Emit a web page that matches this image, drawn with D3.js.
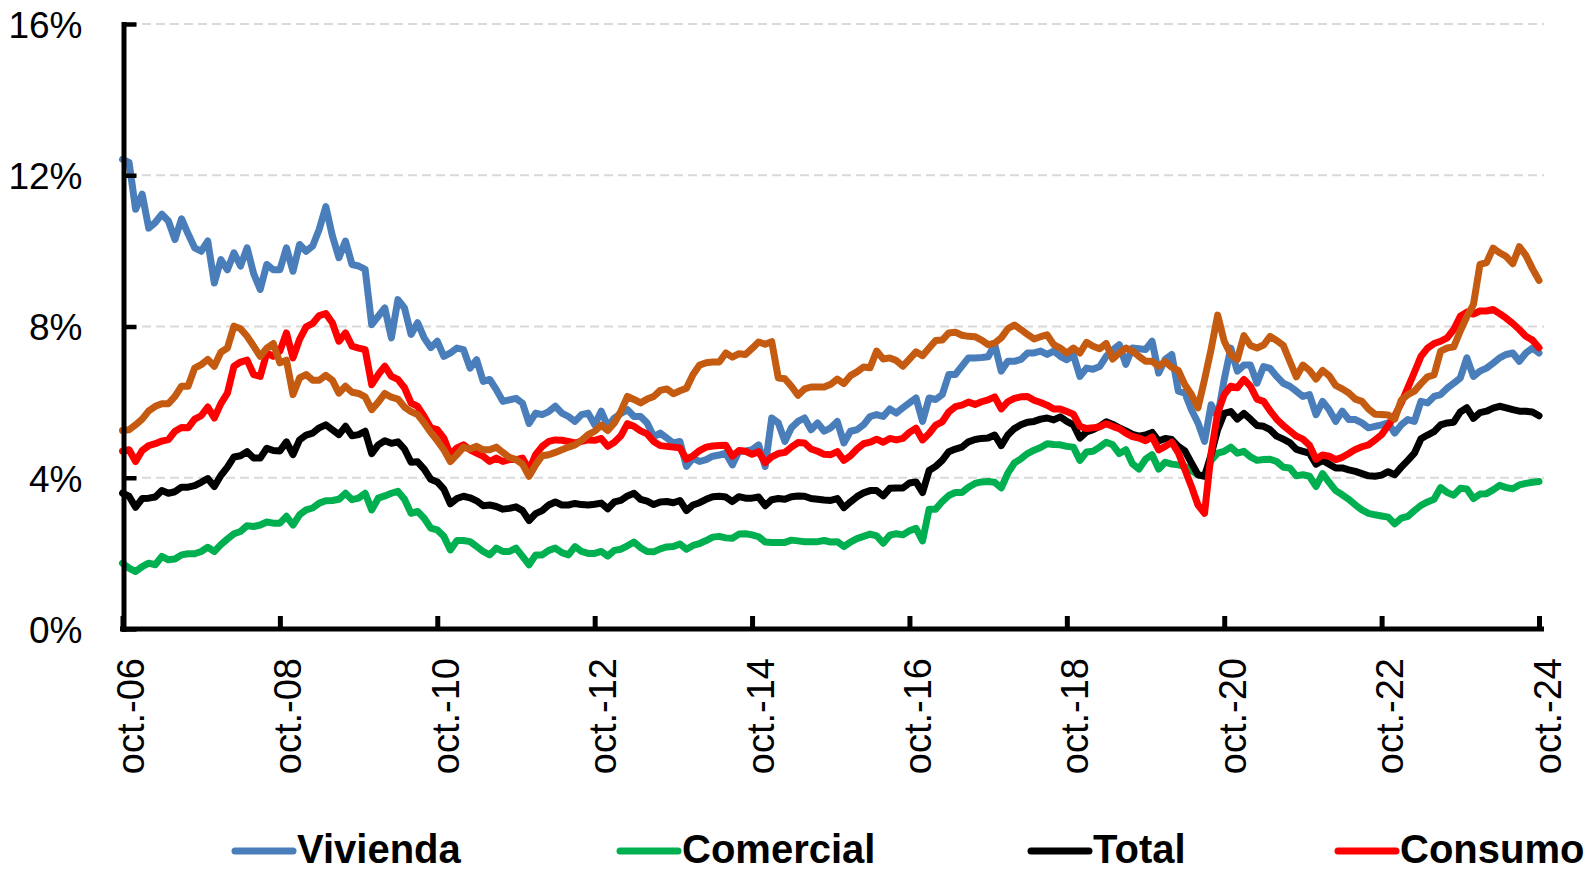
<!DOCTYPE html>
<html><head><meta charset="utf-8">
<script src="https://cdn.jsdelivr.net/npm/d3@7"></script>
<style>html,body{margin:0;padding:0;background:#fff;} svg{display:block}</style>
</head><body>
<svg id="chart" width="1592" height="872"></svg>
<script>
// Monthly categories: oct-2006 .. oct-2024 (217 months)
const monthNames = ["ene.","feb.","mar.","abr.","may.","jun.","jul.","ago.","sep.","oct.","nov.","dic."];
const categories = d3.range(217).map(i => {
  const mo = (9 + i) % 12, yr = 2006 + Math.floor((9 + i) / 12);
  return monthNames[mo] + "-" + String(yr).slice(2);
});
const xTickIndex = [0, 24, 48, 72, 96, 120, 144, 168, 192, 216];
const xTickLabels = ["oct.-06","oct.-08","oct.-10","oct.-12","oct.-14","oct.-16","oct.-18","oct.-20","oct.-22","oct.-24"];
const yTicks = [0, 4, 8, 12, 16];

const vivienda = [
12.42,12.34,11.1,11.5,10.6,10.75,10.97,10.79,10.3,10.85,
10.45,10.08,9.99,10.26,9.15,9.77,9.5,9.95,9.6,10.08,
9.4,8.98,9.64,9.5,9.5,10.08,9.46,10.17,9.99,10.13,
10.57,11.17,10.4,9.82,10.26,9.64,9.6,9.51,8.05,8.27,
8.49,7.7,8.71,8.49,7.79,8.1,7.7,7.44,7.61,7.21,
7.3,7.43,7.39,6.9,7.12,6.55,6.6,6.33,6.02,6.06,
6.1,5.97,5.44,5.71,5.67,5.75,5.89,5.71,5.62,5.49,
5.67,5.71,5.4,5.76,5.36,5.58,5.7,5.8,5.62,5.62,
5.45,5.09,5.18,5.05,4.92,4.96,4.3,4.52,4.43,4.48,
4.57,4.6,4.65,4.34,4.7,4.7,4.74,4.87,4.3,5.58,
5.45,4.96,5.32,5.49,5.58,5.27,5.45,5.23,5.32,5.49,
4.92,5.23,5.27,5.4,5.62,5.67,5.62,5.82,5.71,5.85,
5.98,6.11,5.49,6.11,6.07,6.2,6.73,6.73,6.95,7.17,
7.17,7.18,7.2,7.52,6.82,7.08,7.08,7.13,7.3,7.3,
7.35,7.26,7.35,7.21,7.12,7.25,6.68,6.9,6.87,6.94,
7.21,7.38,7.52,7.0,7.43,7.41,7.39,7.61,6.77,7.13,
7.26,6.29,6.24,5.8,5.45,4.96,5.93,5.62,6.6,7.43,
6.82,6.98,6.98,6.5,6.94,6.89,6.68,6.5,6.42,6.29,
6.15,6.2,5.67,6.02,5.8,5.49,5.76,5.54,5.54,5.45,
5.32,5.36,5.4,5.45,5.18,5.4,5.54,5.49,6.02,5.98,
6.15,6.2,6.37,6.5,6.64,7.17,6.68,6.82,6.9,7.03,
7.17,7.26,7.3,7.08,7.3,7.43,7.3];

const comercial = [
1.74,1.61,1.52,1.65,1.74,1.70,1.92,1.83,1.85,1.96,
1.99,1.99,2.05,2.16,2.05,2.23,2.38,2.52,2.58,2.73,
2.71,2.75,2.83,2.8,2.8,2.98,2.75,3.02,3.15,3.2,
3.33,3.39,3.4,3.43,3.59,3.42,3.46,3.59,3.15,3.46,
3.52,3.59,3.64,3.43,3.06,3.11,2.93,2.67,2.62,2.45,
2.09,2.34,2.34,2.31,2.18,2.05,1.96,2.14,2.05,2.05,
2.14,1.92,1.70,1.96,1.96,2.08,2.14,2.02,1.96,2.18,
2.05,2.0,2.0,2.05,1.93,2.08,2.11,2.2,2.3,2.15,
2.05,2.04,2.12,2.17,2.18,2.25,2.11,2.21,2.26,2.34,
2.43,2.45,2.41,2.4,2.51,2.52,2.49,2.44,2.3,2.29,
2.29,2.29,2.35,2.33,2.31,2.31,2.31,2.34,2.3,2.31,
2.18,2.3,2.39,2.45,2.51,2.46,2.27,2.48,2.52,2.49,
2.6,2.66,2.33,3.17,3.17,3.37,3.53,3.61,3.61,3.75,
3.85,3.89,3.9,3.88,3.73,4.12,4.39,4.5,4.64,4.73,
4.8,4.9,4.88,4.87,4.83,4.81,4.46,4.68,4.7,4.81,
4.94,4.87,4.64,4.74,4.37,4.23,4.49,4.61,4.23,4.41,
4.36,4.34,4.3,4.19,4.08,4.05,4.46,4.65,4.7,4.81,
4.65,4.7,4.55,4.46,4.48,4.49,4.43,4.28,4.26,4.05,
4.08,4.04,3.77,4.11,3.88,3.66,3.55,3.43,3.28,3.15,
3.06,3.02,2.99,2.96,2.78,2.93,2.98,3.13,3.27,3.36,
3.43,3.74,3.61,3.54,3.72,3.7,3.45,3.57,3.58,3.68,
3.8,3.74,3.71,3.81,3.85,3.88,3.9];

const total = [
3.59,3.51,3.22,3.45,3.46,3.49,3.66,3.59,3.63,3.75,
3.75,3.79,3.88,3.98,3.77,4.06,4.28,4.55,4.58,4.69,
4.52,4.52,4.78,4.72,4.71,4.95,4.61,5.0,5.13,5.18,
5.32,5.4,5.27,5.14,5.36,5.11,5.14,5.23,4.64,4.87,
4.98,4.91,4.95,4.76,4.41,4.42,4.23,3.96,3.89,3.7,
3.31,3.45,3.51,3.47,3.39,3.26,3.28,3.24,3.17,3.19,
3.23,3.13,2.87,3.05,3.13,3.28,3.36,3.28,3.28,3.32,
3.29,3.28,3.3,3.33,3.18,3.36,3.4,3.52,3.59,3.43,
3.38,3.29,3.36,3.37,3.34,3.4,3.13,3.28,3.34,3.43,
3.5,3.51,3.49,3.37,3.5,3.46,3.46,3.49,3.26,3.42,
3.45,3.43,3.5,3.52,3.51,3.45,3.43,3.41,3.4,3.45,
3.21,3.36,3.5,3.6,3.66,3.66,3.52,3.72,3.73,3.73,
3.86,3.89,3.61,4.19,4.3,4.46,4.69,4.76,4.81,4.95,
5.01,5.04,5.05,5.13,4.85,5.13,5.3,5.4,5.47,5.49,
5.55,5.58,5.53,5.61,5.49,5.4,5.05,5.21,5.27,5.36,
5.48,5.41,5.32,5.24,5.15,5.1,5.13,5.2,4.97,5.04,
5.01,4.83,4.71,4.39,4.08,4.04,4.61,5.27,5.7,5.75,
5.55,5.7,5.55,5.38,5.36,5.27,5.1,5.02,4.93,4.75,
4.7,4.65,4.36,4.46,4.36,4.26,4.26,4.21,4.17,4.11,
4.05,4.04,4.07,4.16,4.08,4.28,4.46,4.65,5.03,5.13,
5.22,5.4,5.45,5.47,5.74,5.85,5.57,5.72,5.76,5.84,
5.89,5.85,5.8,5.76,5.76,5.74,5.64];

const consumo = [
4.70,4.74,4.43,4.72,4.85,4.9,4.97,5.01,5.23,5.33,
5.32,5.55,5.64,5.87,5.58,5.96,6.24,6.95,7.06,7.11,
6.73,6.68,7.3,7.21,7.35,7.83,7.17,7.66,7.99,8.08,
8.29,8.34,8.1,7.61,7.83,7.48,7.43,7.39,6.46,6.73,
6.95,6.68,6.6,6.38,5.98,5.89,5.62,5.32,5.27,5.05,
4.61,4.79,4.87,4.74,4.65,4.57,4.43,4.52,4.43,4.48,
4.48,4.52,4.21,4.61,4.83,4.96,5.0,4.99,4.96,4.92,
4.96,5.0,4.99,5.04,4.83,4.94,5.11,5.43,5.36,5.24,
5.16,4.96,4.85,4.83,4.81,4.79,4.49,4.58,4.72,4.81,
4.84,4.85,4.86,4.57,4.72,4.7,4.62,4.69,4.4,4.55,
4.64,4.67,4.81,4.93,4.92,4.76,4.7,4.62,4.61,4.69,
4.46,4.58,4.76,4.9,4.94,5.02,4.94,5.04,5.0,5.04,
5.2,5.31,5.0,5.17,5.39,5.48,5.74,5.88,5.92,6.0,
5.94,6.01,6.06,6.14,5.82,6.01,6.1,6.14,6.15,6.05,
5.99,5.92,5.82,5.82,5.75,5.68,5.36,5.3,5.32,5.35,
5.43,5.36,5.3,5.18,5.09,5.05,4.98,5.08,4.74,4.83,
4.94,4.66,4.22,3.77,3.28,3.06,4.65,5.71,6.2,6.42,
6.38,6.6,6.42,6.08,6.02,5.77,5.55,5.38,5.24,5.1,
5.02,4.86,4.49,4.6,4.57,4.48,4.54,4.64,4.75,4.82,
4.87,5.0,5.14,5.38,5.64,5.98,6.38,6.79,7.21,7.43,
7.55,7.61,7.7,7.92,8.27,8.38,8.33,8.41,8.41,8.45,
8.34,8.22,8.08,7.92,7.74,7.64,7.44];

const microcredito = [
5.25,5.27,5.4,5.55,5.77,5.89,5.96,5.96,6.15,6.42,
6.42,6.9,6.99,7.13,6.95,7.32,7.43,8.01,7.94,7.74,
7.48,7.21,7.43,7.55,7.04,7.11,6.2,6.64,6.73,6.58,
6.58,6.71,6.58,6.24,6.42,6.26,6.23,6.14,5.8,6.0,
6.23,6.13,6.08,5.87,5.75,5.67,5.45,5.2,4.98,4.74,
4.43,4.61,4.81,4.76,4.83,4.74,4.74,4.81,4.67,4.54,
4.48,4.36,4.04,4.34,4.58,4.61,4.67,4.74,4.81,4.87,
4.99,5.14,5.23,5.39,5.25,5.45,5.76,6.15,6.07,5.98,
6.08,6.15,6.31,6.35,6.22,6.3,6.37,6.73,6.98,7.04,
7.06,7.06,7.3,7.19,7.28,7.26,7.42,7.59,7.53,7.6,
6.64,6.62,6.42,6.18,6.35,6.4,6.4,6.4,6.47,6.61,
6.49,6.7,6.8,6.93,6.91,7.35,7.14,7.17,7.1,6.95,
7.14,7.33,7.23,7.43,7.63,7.64,7.83,7.85,7.77,7.74,
7.73,7.64,7.52,7.56,7.7,7.94,8.04,7.92,7.79,7.67,
7.73,7.78,7.52,7.43,7.3,7.43,7.3,7.58,7.48,7.41,
7.55,7.14,7.3,7.43,7.35,7.21,7.08,7.08,6.95,7.07,
6.92,6.84,6.46,6.2,5.85,6.6,7.4,8.3,7.61,7.26,
7.13,7.76,7.5,7.43,7.51,7.74,7.63,7.5,7.08,6.67,
6.98,6.84,6.61,6.84,6.7,6.44,6.35,6.24,6.08,6.02,
5.82,5.68,5.67,5.66,5.55,6.05,6.2,6.29,6.49,6.67,
6.72,7.35,7.43,7.46,7.88,8.26,8.58,9.64,9.69,10.07,
9.95,9.85,9.66,10.11,9.88,9.53,9.22];

const seriesNames = ["Vivienda", "Comercial", "Total", "Consumo", "Microcrédito"];
const seriesColors = ["#4a7ebb", "#00b050", "#000000", "#ff0000", "#c55a11"];
const seriesValues = [vivienda, comercial, total, consumo, microcredito];
const series = seriesNames.map((n, k) => ({name: n, color: seriesColors[k], values: seriesValues[k]}));

const svg = d3.select("#chart");
const x = d3.scaleLinear().domain([0, categories.length - 1]).range([122.5, 1539]);
const y = d3.scaleLinear().domain([0, 16]).range([629, 24]);

// gridlines
svg.append("g").selectAll("line").data(yTicks.filter(d => d > 0)).join("line")
  .attr("x1", 128).attr("x2", 1544)
  .attr("y1", d => y(d)).attr("y2", d => y(d))
  .attr("stroke", "#d9d9d9").attr("stroke-width", 2).attr("stroke-dasharray", "9,5");

// lines
const line = d3.line().x((d, i) => x(i)).y(d => y(d));
svg.append("g").selectAll("path").data(series).join("path")
  .attr("d", d => line(d.values))
  .attr("fill", "none").attr("stroke", d => d.color)
  .attr("stroke-width", 7).attr("stroke-linejoin", "round").attr("stroke-linecap", "round");

// y axis
const yAxis = d3.axisLeft(y).tickValues(yTicks).tickSize(-13).tickSizeOuter(0).tickPadding(41)
  .tickFormat(d => d + "%");
const gy = svg.append("g").attr("transform", "translate(123.5,0)").call(yAxis);
gy.select(".domain").attr("stroke", "#000").attr("stroke-width", 5).attr("stroke-linecap", "square");
gy.selectAll(".tick line").attr("stroke", "#000").attr("stroke-width", 4.5);
gy.selectAll(".tick text").attr("fill", "#000").attr("dy", "0.36em")
  .style("font-family", "'Liberation Sans', Arial, sans-serif").style("font-size", "37px");

// x axis
const xAxis = d3.axisBottom(x).tickValues(xTickIndex).tickSize(-13).tickSizeOuter(0)
  .tickFormat((d, i) => xTickLabels[i]);
const gx = svg.append("g").attr("transform", "translate(0,629)").call(xAxis);
gx.select(".domain").attr("d", "M120,0H1544").attr("stroke", "#000").attr("stroke-width", 5);
gx.selectAll(".tick line").attr("stroke", "#000").attr("stroke-width", 5);
gx.selectAll(".tick text").attr("fill", "#000")
  .attr("transform", "rotate(-90)").attr("text-anchor", "end")
  .attr("x", -29).attr("y", 21).attr("dy", null)
  .style("font-family", "'Liberation Sans', Arial, sans-serif").style("font-size", "38px");

// legend (entries that fit inside the picture)
const legendX = [235, 620, 1031, 1338];
const legendItems = series.slice(0, 4).map((s, k) => ({...s, x0: legendX[k]}));
const lg = svg.append("g").selectAll("g").data(legendItems).join("g")
  .attr("transform", d => `translate(${d.x0},851)`);
lg.append("line").attr("x1", 0).attr("x2", 58).attr("y1", 0).attr("y2", 0)
  .attr("stroke", d => d.color).attr("stroke-width", 7).attr("stroke-linecap", "round");
lg.append("text").attr("x", 62).attr("y", 12).text(d => d.name)
  .attr("fill", "#000")
  .style("font-family", "'Liberation Sans', Arial, sans-serif").style("font-size", "40px").style("font-weight", "bold");
</script>
</body></html>
